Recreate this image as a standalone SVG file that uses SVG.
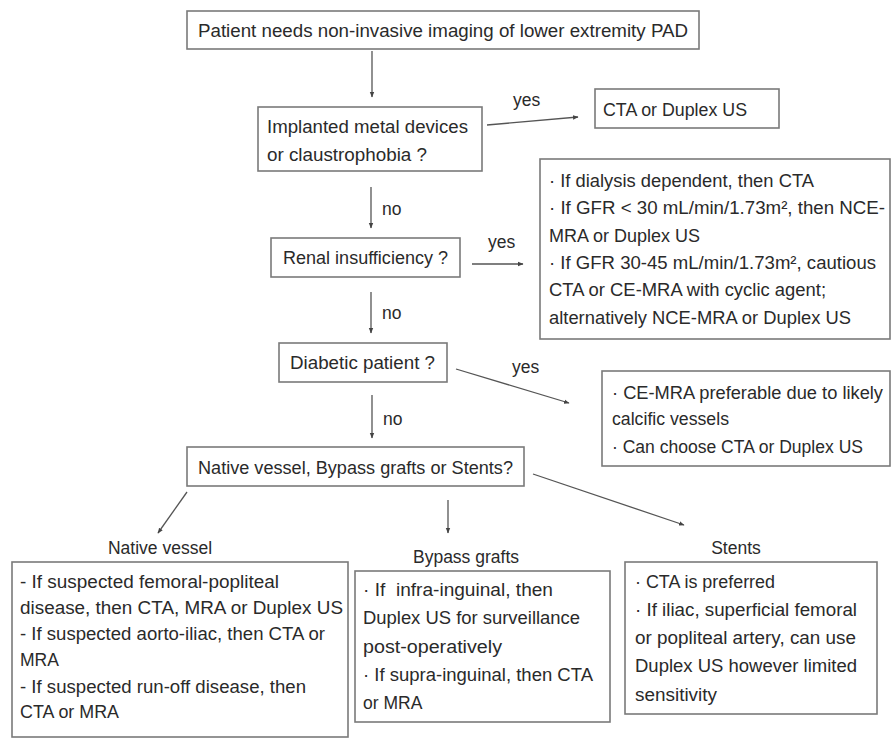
<svg xmlns="http://www.w3.org/2000/svg" width="892" height="738" viewBox="0 0 892 738">
<defs>
<marker id="ah" markerWidth="6" markerHeight="6" refX="5" refY="3" orient="auto" markerUnits="userSpaceOnUse">
<path d="M0,0.8 L5.5,3 L0,5.2 z" fill="#444"/>
</marker>
<style>
.box{fill:#fff;stroke:#7a7a7a;stroke-width:1.6}
.t{font-family:"Liberation Sans",Arial,sans-serif;font-size:17.5px;fill:#2a2a2a}
.c{text-anchor:middle}
.ln{stroke:#555;stroke-width:1.3;fill:none;marker-end:url(#ah)}
</style>
</defs>
<rect width="892" height="738" fill="#fff"/>

<g id="connectors">
<line class="ln" x1="372" y1="51" x2="372" y2="97"/>
<line class="ln" x1="487" y1="125" x2="578" y2="117"/>
<line class="ln" x1="371" y1="187" x2="371" y2="228"/>
<line class="ln" x1="472" y1="264" x2="523" y2="264"/>
<line class="ln" x1="371" y1="292" x2="371" y2="333"/>
<line class="ln" x1="456" y1="369" x2="569" y2="403"/>
<line class="ln" x1="372" y1="395" x2="372" y2="438"/>
<line class="ln" x1="187" y1="492" x2="158" y2="533"/>
<line class="ln" x1="448" y1="500" x2="448" y2="533"/>
<line class="ln" x1="533" y1="474" x2="684" y2="525"/>
<text class="t" x="513" y="106">yes</text>
<text class="t" x="382" y="215">no</text>
<text class="t" x="488" y="248">yes</text>
<text class="t" x="382" y="319">no</text>
<text class="t" x="512" y="373">yes</text>
<text class="t" x="383" y="425">no</text>
</g>

<g id="start">
<rect class="box" x="187" y="11" width="512" height="38"/>
<text class="t" x="198" y="37" textLength="490" lengthAdjust="spacingAndGlyphs">Patient needs non-invasive imaging of lower extremity PAD</text>
</g>

<g id="implanted">
<rect class="box" x="258" y="107" width="224" height="64"/>
<text class="t" x="267" y="133" textLength="201" lengthAdjust="spacingAndGlyphs">Implanted metal devices</text>
<text class="t" x="267" y="161" textLength="160" lengthAdjust="spacingAndGlyphs">or claustrophobia ?</text>
</g>

<g id="cta-duplex">
<rect class="box" x="595" y="89" width="184" height="39"/>
<text class="t" x="603" y="116" textLength="144" lengthAdjust="spacingAndGlyphs">CTA or Duplex US</text>
</g>

<g id="renal-options">
<rect class="box" x="540" y="159" width="350" height="180"/>
<text class="t" x="549" y="187" textLength="265" lengthAdjust="spacingAndGlyphs">· If dialysis dependent, then CTA</text>
<text class="t" x="549" y="214" textLength="336" lengthAdjust="spacingAndGlyphs">· If GFR &lt; 30 mL/min/1.73m², then NCE-</text>
<text class="t" x="549" y="242" textLength="151" lengthAdjust="spacingAndGlyphs">MRA or Duplex US</text>
<text class="t" x="549" y="269" textLength="327" lengthAdjust="spacingAndGlyphs">· If GFR 30-45 mL/min/1.73m², cautious</text>
<text class="t" x="549" y="296" textLength="277" lengthAdjust="spacingAndGlyphs">CTA or CE-MRA with cyclic agent;</text>
<text class="t" x="549" y="324" textLength="302" lengthAdjust="spacingAndGlyphs">alternatively NCE-MRA or Duplex US</text>
</g>

<g id="renal">
<rect class="box" x="271" y="238" width="189" height="39"/>
<text class="t" x="283" y="264" textLength="165" lengthAdjust="spacingAndGlyphs">Renal insufficiency ?</text>
</g>

<g id="diabetic">
<rect class="box" x="279" y="343" width="168" height="39"/>
<text class="t" x="290" y="369" textLength="145" lengthAdjust="spacingAndGlyphs">Diabetic patient ?</text>
</g>

<g id="diabetic-options">
<rect class="box" x="602" y="371" width="288" height="95"/>
<text class="t" x="612" y="399" textLength="271" lengthAdjust="spacingAndGlyphs">· CE-MRA preferable due to likely</text>
<text class="t" x="612" y="425" textLength="117" lengthAdjust="spacingAndGlyphs">calcific vessels</text>
<text class="t" x="612" y="453" textLength="251" lengthAdjust="spacingAndGlyphs">· Can choose CTA or Duplex US</text>
</g>

<g id="vessel-type">
<rect class="box" x="187" y="447" width="337" height="39"/>
<text class="t" x="198" y="474" textLength="315" lengthAdjust="spacingAndGlyphs">Native vessel, Bypass grafts or Stents?</text>
</g>

<g id="native">
<text class="t c" x="160" y="554">Native vessel</text>
<rect class="box" x="12" y="562" width="336" height="175"/>
<text class="t" x="20" y="588" textLength="259" lengthAdjust="spacingAndGlyphs">- If suspected femoral-popliteal</text>
<text class="t" x="20" y="614" textLength="323" lengthAdjust="spacingAndGlyphs">disease, then CTA, MRA or Duplex US</text>
<text class="t" x="20" y="640" textLength="305" lengthAdjust="spacingAndGlyphs">- If suspected aorto-iliac, then CTA or</text>
<text class="t" x="20" y="666">MRA</text>
<text class="t" x="20" y="693" textLength="286" lengthAdjust="spacingAndGlyphs">- If suspected run-off disease, then</text>
<text class="t" x="20" y="718" textLength="99" lengthAdjust="spacingAndGlyphs">CTA or MRA</text>
</g>

<g id="bypass">
<text class="t c" x="466" y="563">Bypass grafts</text>
<rect class="box" x="355" y="571" width="255" height="151"/>
<text class="t" x="363" y="596" xml:space="preserve" textLength="190" lengthAdjust="spacingAndGlyphs">· If  infra-inguinal, then</text>
<text class="t" x="363" y="624" textLength="217" lengthAdjust="spacingAndGlyphs">Duplex US for surveillance</text>
<text class="t" x="363" y="653" textLength="139" lengthAdjust="spacingAndGlyphs">post-operatively</text>
<text class="t" x="363" y="681" textLength="230" lengthAdjust="spacingAndGlyphs">· If supra-inguinal, then CTA</text>
<text class="t" x="363" y="709">or MRA</text>
</g>

<g id="stents">
<text class="t c" x="736" y="554">Stents</text>
<rect class="box" x="625" y="562" width="252" height="152"/>
<text class="t" x="635" y="588" textLength="140" lengthAdjust="spacingAndGlyphs">· CTA is preferred</text>
<text class="t" x="635" y="616" textLength="222" lengthAdjust="spacingAndGlyphs">· If iliac, superficial femoral</text>
<text class="t" x="635" y="644" textLength="221" lengthAdjust="spacingAndGlyphs">or popliteal artery, can use</text>
<text class="t" x="635" y="672" textLength="222" lengthAdjust="spacingAndGlyphs">Duplex US however limited</text>
<text class="t" x="635" y="701" textLength="82" lengthAdjust="spacingAndGlyphs">sensitivity</text>
</g>
</svg>
